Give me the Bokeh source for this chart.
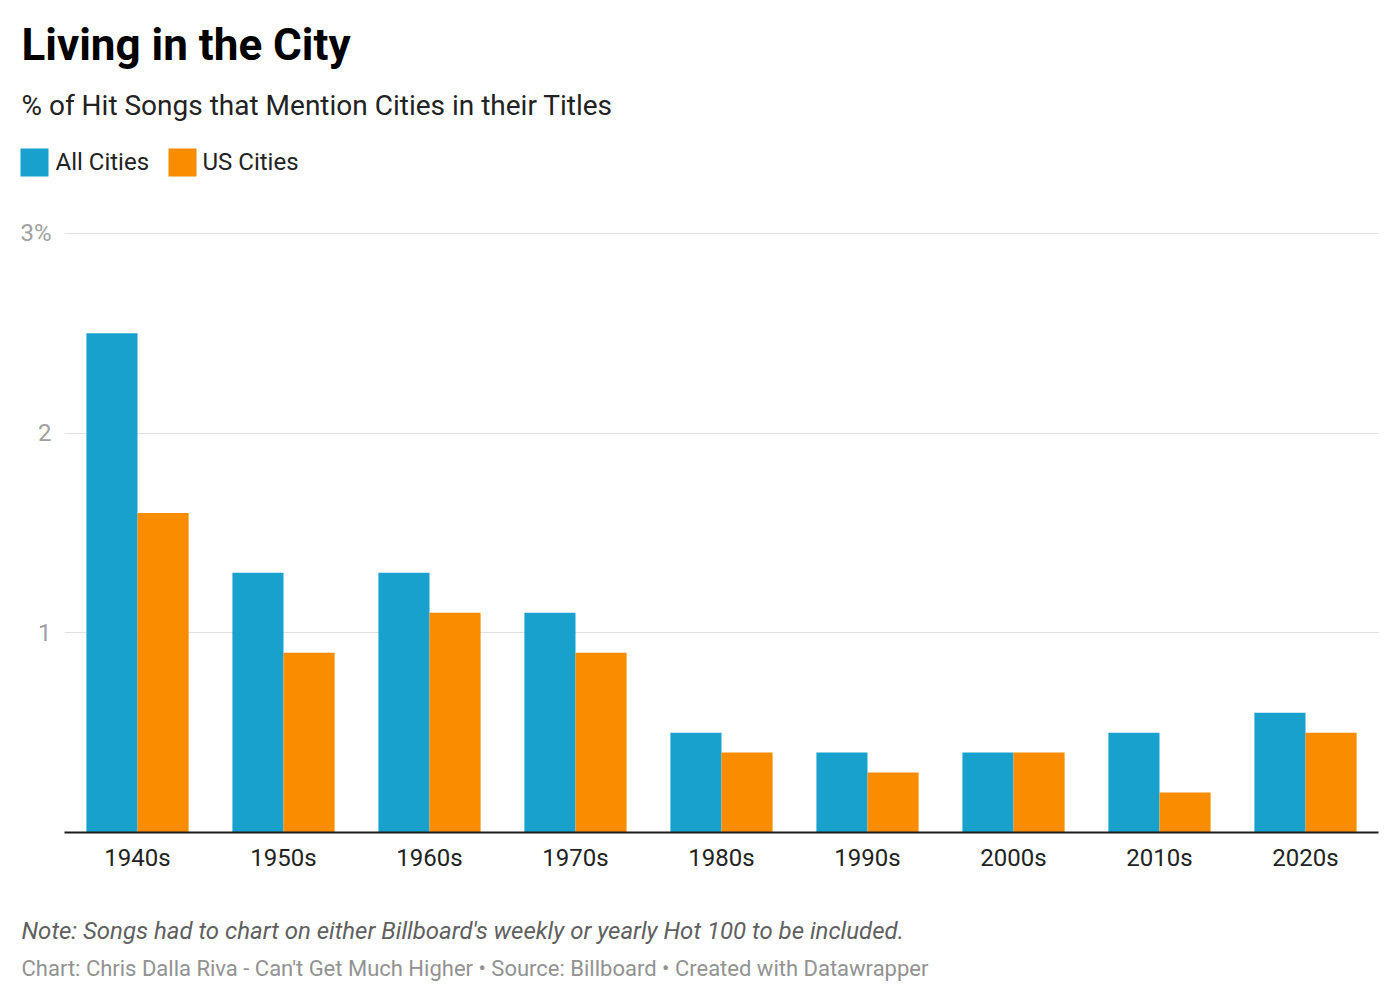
from bokeh.plotting import figure
from bokeh.models import FactorRange, Range1d, FixedTicker, ColumnDataSource
from bokeh.layouts import column
from bokeh.transform import dodge
from bokeh.core.properties import value
from bokeh.embed import file_html
from bokeh.resources import INLINE

decades = ["1940s", "1950s", "1960s", "1970s", "1980s", "1990s", "2000s", "2010s", "2020s"]
all_cities = [2.5, 1.3, 1.3, 1.1, 0.5, 0.4, 0.4, 0.5, 0.6]
us_cities = [1.6, 0.9, 1.1, 0.9, 0.4, 0.3, 0.4, 0.2, 0.5]
series_names = ["All Cities", "US Cities"]
y_ticks = [1, 2, 3]
y_tick_labels = {1: "1", 2: "2", 3: "3%"}

title_text = "Living in the City"
subtitle_text = "% of Hit Songs that Mention Cities in their Titles"
note_text = "Note: Songs had to chart on either Billboard's weekly or yearly Hot 100 to be included."
credit_text = "Chart: Chris Dalla Riva - Can't Get Much Higher \u2022 Source: Billboard \u2022 Created with Datawrapper"

BLUE = "#18a1cd"
ORANGE = "#fa8c00"
FONT = "Roboto"
W = 1390


def blank_figure(height):
    f = figure(width=W, height=height, x_range=Range1d(0, W), y_range=Range1d(height, 0),
               output_backend="svg", toolbar_location=None,
               x_axis_location=None, y_axis_location=None,
               min_border=0, min_border_left=0, min_border_right=0,
               min_border_top=0, min_border_bottom=0)
    f.xgrid.visible = False
    f.ygrid.visible = False
    f.outline_line_color = None
    f.background_fill_color = "white"
    f.border_fill_color = "white"
    return f


# ---------- header: title, subtitle, legend ----------
HEAD_H = 210
head = blank_figure(HEAD_H)
head.text(x=[21], y=[44], text=[title_text], text_font=value(FONT), text_font_size="44px",
          text_font_style="bold", text_color="#000000", text_baseline="alphabetic")
head.text(x=[21], y=[105], text=[subtitle_text], text_font=value(FONT), text_font_size="28px",
          text_color="#222222", text_baseline="alphabetic")
# legend keys
head.quad(left=[20, 168], right=[48, 196], top=[148, 148], bottom=[176, 176],
          fill_color=[BLUE, ORANGE], line_color=None)
head.text(x=[55, 202], y=[161, 161], text=series_names, text_font=value(FONT),
          text_font_size="24px", text_color="#222222", text_baseline="alphabetic")

# ---------- main chart ----------
src = ColumnDataSource(dict(decade=decades, all=all_cities, us=us_cities))

p = figure(width=W, height=682, x_range=FactorRange(*decades, range_padding=0),
           y_range=Range1d(0, 3.004), output_backend="svg", toolbar_location=None,
           min_border_left=64, min_border_right=W - 1378, min_border_top=22, min_border_bottom=60)
p.outline_line_color = None
p.background_fill_color = "white"
p.border_fill_color = "white"

p.vbar(x=dodge("decade", -0.175, range=p.x_range), top="all", width=0.35, source=src,
       fill_color=BLUE, line_color=None)
p.vbar(x=dodge("decade", 0.175, range=p.x_range), top="us", width=0.35, source=src,
       fill_color=ORANGE, line_color=None)

p.xgrid.grid_line_color = None
p.ygrid.grid_line_color = "#e0e0e0"
p.ygrid.grid_line_width = 1
p.yaxis.ticker = FixedTicker(ticks=y_ticks)
p.yaxis.major_label_overrides = y_tick_labels
p.yaxis.axis_line_color = None
p.yaxis.major_tick_line_color = None
p.yaxis.minor_tick_line_color = None
p.yaxis.major_tick_out = 0
p.yaxis.major_tick_in = 0
p.yaxis.major_label_text_font = FONT
p.yaxis.major_label_text_font_size = "24px"
p.yaxis.major_label_text_color = "#a0a0a0"
p.yaxis.major_label_standoff = 13

p.xaxis.axis_line_color = "#1d1d1d"
p.xaxis.axis_line_width = 2
p.xaxis.major_tick_line_color = None
p.xaxis.minor_tick_line_color = None
p.xaxis.major_tick_out = 0
p.xaxis.major_tick_in = 0
p.xaxis.major_label_text_font = FONT
p.xaxis.major_label_text_font_size = "24px"
p.xaxis.major_label_text_color = "#222222"
p.xaxis.major_label_standoff = 11

# ---------- footer: note and credits ----------
FOOT_H = 100
foot = blank_figure(FOOT_H)
foot.text(x=[21], y=[38], text=[note_text], text_font=value(FONT), text_font_size="24px",
          text_font_style="italic", text_color="#606060", text_baseline="alphabetic")
foot.text(x=[21], y=[76], text=[credit_text], text_font=value(FONT), text_font_size="22px",
          text_color="#929292", text_baseline="alphabetic")

layout = column(column(head), p, column(foot), spacing=0)
open("out.html", "w").write(file_html(layout, INLINE))
